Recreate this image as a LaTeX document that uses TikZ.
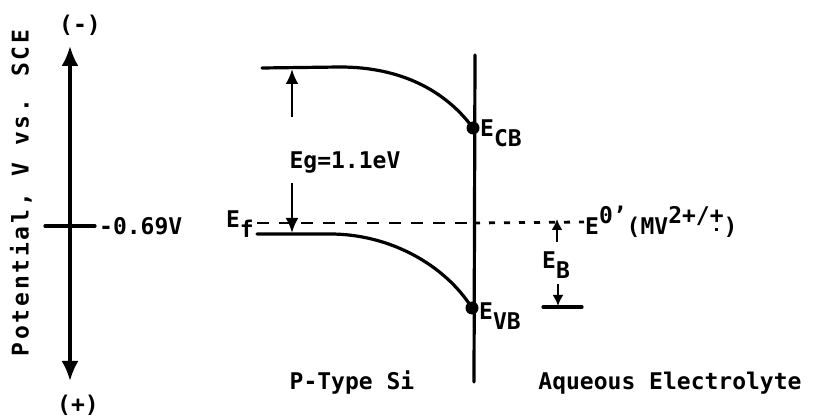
\documentclass[tikz,border=0pt]{standalone}
\usepackage{fontspec}
\setmainfont{DejaVu Sans Mono}
\usetikzlibrary{arrows.meta,positioning}
\newcommand\lowtxt[1]{\raisebox{-0.45em}{#1}}
\newcommand\uptxt[1]{\raisebox{0.5em}{#1}}
\newcommand\radplus{+\llap{\raisebox{-0.32em}{\rule{3.2pt}{3.2pt}}\hspace{5.3pt}}}

\begin{document}
\begin{tikzpicture}[x=1pt,y=-1pt,>=Latex,
  lbl/.style={font=\fontsize{23}{26}\selectfont\bfseries,inner sep=1pt},
  band/.style={line width=3.2pt,line cap=round},
  bigarrow/.style={line width=3.2pt,{Latex[length=20pt,width=17pt]}-{Latex[length=20pt,width=17pt]}},
  gaparrow/.style={line width=2.6pt,-{Latex[length=15pt,width=13pt]}},
  smallarrow/.style={line width=2.6pt,-{Latex[length=11pt,width=11pt]}}]
\useasboundingbox (0,0) rectangle (831,419);

% potential axis
\node[lbl] (minus) at (80,25) {(-)};
\node[lbl] (plus) at (78,405) {(+)};
\coordinate (axtop) at (70,46);
\coordinate (axbot) at (70,381);
\draw[bigarrow] (axtop) -- (axbot);
\coordinate (tickl) at (45,226);
\coordinate (tickr) at (95,226);
\draw[band] (tickl) -- (tickr);
\node[lbl,anchor=west] (vref) at (98,226) {-0.69V};
\node[lbl,rotate=90,font=\fontsize{23}{26}\selectfont\bfseries\addfontfeature{LetterSpace=12}] (ylab) at (21,193) {Potential, V vs. SCE};

% bands
\coordinate (cbl) at (262,68);
\coordinate (cbf) at (340,67);
\coordinate (ecb) at (473,128);
\coordinate (vbl) at (257,234);
\coordinate (vbf) at (330,234);
\coordinate (evb) at (472,308);
\draw[band] (cbl) -- (cbf) .. controls (400,67) and (445,90) .. (ecb);
\draw[band] (vbl) -- (vbf) .. controls (390,234) and (445,265) .. (evb);

% interface
\coordinate (iftop) at (475,55);
\coordinate (ifmid) at (474,223);
\coordinate (ifbot) at (474,382);
\coordinate (efl) at (257,223);
\node[lbl,anchor=west] (eredox) at (584,222) {E\uptxt{0'}(MV\uptxt{2+/\radplus})};
\draw[line width=2.8pt,dash pattern=on 12pt off 10pt] (efl) -- (ifmid);
\draw[line width=2.8pt,dash pattern=on 6pt off 9pt] (ifmid) -- (eredox.west);
\draw[band] (iftop) -- (ifbot);
\fill (ecb) circle (6.5);
\fill (evb) circle (6.5);
\node[lbl,anchor=west] (ecblab) at (479,133) {E\lowtxt{CB}};
\node[lbl,anchor=west] (evblab) at (478,316) {E\lowtxt{VB}};
\node[lbl,anchor=east] (eflab) at (255,224) {E\lowtxt{f}};

% band gap
\node[lbl] (eg) at (345,163) {Eg=1.1eV};
\coordinate (egup) at (292,117);
\coordinate (egdn) at (292,183);
\coordinate (egtop) at (292,69);
\coordinate (egbot) at (292,233);
\draw[gaparrow] (egup) -- (egtop);
\draw[gaparrow] (egdn) -- (egbot);

% band bending
\node[lbl] (eb) at (556,265) {E\lowtxt{B}};
\coordinate (ebup) at (557,242);
\coordinate (ebtop) at (557,219);
\coordinate (ebdn) at (558,284);
\coordinate (ebbot) at (558,306);
\coordinate (ebl) at (543,307);
\coordinate (ebr) at (582,307);
\draw[smallarrow] (ebup) -- (ebtop);
\draw[smallarrow] (ebdn) -- (ebbot);
\draw[band] (ebl) -- (ebr);

% phases
\node[lbl] (ptype) at (352,383) {P-Type Si};
\node[lbl] (aqueous) at (670,383) {Aqueous Electrolyte};
\end{tikzpicture}
\end{document}
